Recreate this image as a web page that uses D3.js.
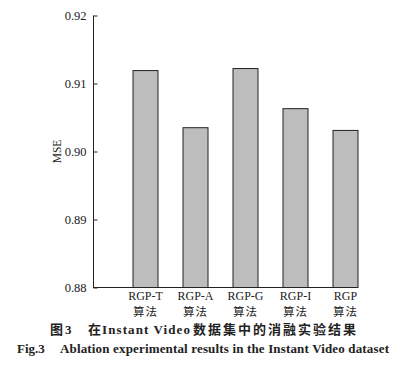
<!DOCTYPE html>
<html>
<head>
<meta charset="utf-8">
<script src="https://cdn.jsdelivr.net/npm/d3@7"></script>
<style>
  html, body { margin: 0; padding: 0; background: #fff; }
  svg { display: block; }
</style>
</head>
<body>
<svg id="chart" width="408" height="375"></svg>
<script>
// 消融实验 MSE
const methods = ['RGP-T', 'RGP-A', 'RGP-G', 'RGP-I', 'RGP'];
const mse     = [0.9119, 0.9035, 0.9122, 0.9063, 0.9031];
const yTicks  = [0.88, 0.89, 0.90, 0.91, 0.92];
const subLabel = '算法';

const SERIF = '"Liberation Serif", "Times New Roman", serif';
const CJK   = '"Noto Sans CJK SC", sans-serif';

const svg = d3.select('#chart');
const AXIS_X = 93;

const x = d3.scaleBand()
  .domain(methods)
  .range([120.5, 370.5])
  .paddingInner(0.5)
  .paddingOuter(0.25);

const y = d3.scaleLinear()
  .domain([0.88, 0.92])
  .range([287.5, 15.5]);

// ── 柱子 ────────────────────────────────────────────
svg.append('g')
  .selectAll('rect')
  .data(methods)
  .join('rect')
  .attr('x', d => x(d))
  .attr('width', x.bandwidth())
  .attr('y', (d, i) => y(mse[i]))
  .attr('height', (d, i) => y(0.88) - y(mse[i]))
  .attr('fill', '#bdbdbd')
  .attr('stroke', '#222')
  .attr('stroke-width', 1);

// ── y 轴 (刻度向内) ───────────────────────────────────
const yAxis = svg.append('g')
  .attr('transform', `translate(${AXIS_X + 0.5},0)`)
  .call(d3.axisRight(y).tickValues(yTicks).tickSize(4).tickFormat(d3.format('.2f')));
yAxis.select('.domain').remove();
yAxis.selectAll('line').attr('stroke', '#222');
yAxis.selectAll('text')
  .attr('x', -7)
  .attr('text-anchor', 'end')
  .attr('font-family', SERIF)
  .attr('font-size', 12.5)
  .attr('fill', '#222');

svg.append('line')
  .attr('x1', AXIS_X + 0.5).attr('x2', AXIS_X + 0.5)
  .attr('y1', y(0.92)).attr('y2', y(0.88))
  .attr('stroke', '#222').attr('stroke-width', 1);

// x 轴底线
const last = methods[methods.length - 1];
svg.append('line')
  .attr('x1', AXIS_X).attr('x2', x(last) + x.bandwidth())
  .attr('y1', y(0.88)).attr('y2', y(0.88))
  .attr('stroke', '#222').attr('stroke-width', 1);

// y 轴标题
svg.append('text')
  .attr('transform', `translate(61,${y(0.90)}) rotate(-90)`)
  .attr('text-anchor', 'middle')
  .attr('font-family', SERIF)
  .attr('font-size', 11.5)
  .attr('fill', '#222')
  .text('MSE');

// ── x 标签 ──────────────────────────────────────────
const xl = svg.append('g');
xl.selectAll('text.m')
  .data(methods)
  .join('text')
  .attr('class', 'm')
  .attr('x', d => x(d) + x.bandwidth() / 2)
  .attr('y', 300)
  .attr('text-anchor', 'middle')
  .attr('font-family', SERIF)
  .attr('font-size', 12)
  .attr('fill', '#222')
  .text(d => d);
xl.selectAll('text.s')
  .data(methods)
  .join('text')
  .attr('class', 's')
  .attr('x', d => x(d) + x.bandwidth() / 2)
  .attr('y', 316)
  .attr('text-anchor', 'middle')
  .attr('font-family', CJK)
  .attr('font-size', 11.5)
  .attr('letter-spacing', 1)
  .attr('fill', '#222')
  .text(subLabel);

// ── 图题 ────────────────────────────────────────────
const cap1 = svg.append('text')
  .attr('y', 334)
  .attr('font-weight', 'bold')
  .attr('font-size', 13)
  .attr('fill', '#222');
cap1.append('tspan').attr('x', 50).attr('font-family', CJK).text('图');
cap1.append('tspan').attr('x', 65).attr('font-family', SERIF).text('3');
cap1.append('tspan').attr('x', 88).attr('font-family', CJK).text('在');
cap1.append('tspan').attr('x', 102).attr('font-family', SERIF)
  .attr('textLength', 88).attr('lengthAdjust', 'spacing').text('Instant Video');
cap1.append('tspan').attr('x', 193).attr('font-family', CJK)
  .attr('letter-spacing', 2).text('数据集中的消融实验结果');

const cap2 = svg.append('text')
  .attr('y', 353)
  .attr('font-family', SERIF)
  .attr('font-weight', 'bold')
  .attr('font-size', 13)
  .attr('fill', '#222');
cap2.append('tspan').attr('x', 17).text('Fig.3');
cap2.append('tspan').attr('x', 60)
  .attr('textLength', 329).attr('lengthAdjust', 'spacing')
  .text('Ablation experimental results in the Instant Video dataset');
</script>
</body>
</html>
